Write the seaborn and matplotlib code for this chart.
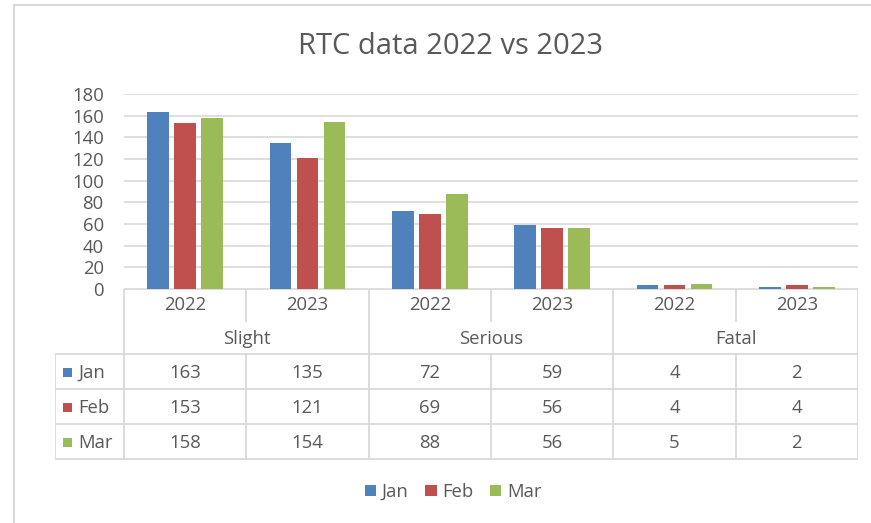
import matplotlib
matplotlib.use("Agg")
import matplotlib.pyplot as plt
from matplotlib.patches import Patch, Rectangle
import seaborn as sns
import pandas as pd

# ---- data ----
categories = ["Slight", "Serious", "Fatal"]
years = ["2022", "2023"]
months = ["Jan", "Feb", "Mar"]
jan = [163, 135, 72, 59, 4, 2]
feb = [153, 121, 69, 56, 4, 4]
mar = [158, 154, 88, 56, 5, 2]
month_colors = ["#4F81BD", "#C0504D", "#9BBB59"]
title = "RTC data 2022 vs 2023"

groups = [f"{c} {y}" for c in categories for y in years]
series = {"Jan": jan, "Feb": feb, "Mar": mar}
rows = []
for m in months:
    for g, v in zip(groups, series[m]):
        rows.append({"group": g, "month": m, "value": v})
df = pd.DataFrame(rows)

sns.set_theme(style="white")
FONT = ["Open Sans", "DejaVu Sans"]
plt.rcParams["font.family"] = FONT
TXT = "#595959"
GRID = "#d9d9d9"
FS = 13.3

W, H = 871, 523
fig = plt.figure(figsize=(W / 100, H / 100), dpi=100)
fig.patch.set_facecolor("white")


def fr(x0, y0, x1, y1):
    return [x0 / W, 1 - y1 / H, (x1 - x0) / W, (y1 - y0) / H]


# outer frame (top and left edges)
frame = fig.add_axes([0, 0, 1, 1])
frame.set_xlim(0, W)
frame.set_ylim(H, 0)
frame.axis("off")
frame.plot([14, W], [5, 5], color=GRID, lw=1.5)
frame.plot([14, 14], [5, H], color=GRID, lw=1.5)

# main bar axes
ax = fig.add_axes(fr(124, 94, 858, 289))
sns.barplot(data=df, x="group", y="value", hue="month", order=groups,
            hue_order=months, palette=month_colors, width=0.662, gap=0.2,
            saturation=1, ax=ax, legend=False, edgecolor="none")
ax.set_ylim(0, 180)
ax.set_xlim(-0.5, 5.5)
ax.set_yticks(range(0, 181, 20))
ax.yaxis.grid(True, color=GRID, lw=1.2)
ax.set_axisbelow(True)
for s in ax.spines.values():
    s.set_visible(False)
ax.set_xlabel("")
ax.set_ylabel("")
ax.set_xticks([])
ax.tick_params(axis="y", length=0, pad=14.5, labelsize=FS, labelcolor=TXT)

fig.text(450 / W, 1 - 46 / H, title, ha="center", va="center",
         fontsize=21, color=TXT)

# data table
leg_w = 69 / 122.33
tx = fig.add_axes(fr(55, 289, 858, 460))
tx.set_xlim(-0.5 - leg_w, 5.5)
tx.set_ylim(460, 289)
tx.axis("off")
left = -0.5 - leg_w
lk = dict(color=GRID, lw=1.3, solid_capstyle="projecting")
tx.plot([-0.5, 5.5], [289.5, 289.5], **lk)
for xb in [-0.5, 1.5, 3.5, 5.5]:
    tx.plot([xb, xb], [289.5, 459.5], **lk)
for xb in [0.5, 2.5, 4.5]:
    tx.plot([xb, xb], [289.5, 321], **lk)
    tx.plot([xb, xb], [354, 459.5], **lk)
for yb in [354, 389, 424, 459.5]:
    tx.plot([left, 5.5], [yb, yb], **lk)
tx.plot([left, left], [354, 459.5], **lk)

for i, g in enumerate(groups):
    tx.text(i, 305, g.split()[1], ha="center", va="center", fontsize=FS,
            color=TXT)
for j, c in enumerate(categories):
    tx.text(2 * j + 0.5, 339, c, ha="center", va="center", fontsize=FS,
            color=TXT)
row_y = [373, 408, 443]
for r, m in enumerate(months):
    y = row_y[r]
    x0 = left + 8 / 122.33
    tx.add_patch(Rectangle((x0, y - 4.5), 9 / 122.33, 9,
                           color=month_colors[r], lw=0))
    tx.text(left + 23 / 122.33, y, m, ha="left", va="center", fontsize=FS,
            color=TXT)
    for i, v in enumerate(series[m]):
        tx.text(i, y, str(v), ha="center", va="center", fontsize=FS,
                color=TXT)

# legend
handles = [Patch(facecolor=c, edgecolor="none", label=m)
           for m, c in zip(months, month_colors)]
leg = fig.legend(handles=handles, loc="center", ncol=3,
                 bbox_to_anchor=(453 / W, 1 - 492 / H), frameon=False,
                 fontsize=FS, handlelength=0.62, handleheight=0.62,
                 handletextpad=0.3, columnspacing=0.9, labelcolor=TXT)

fig.savefig("out.png", dpi=100)
